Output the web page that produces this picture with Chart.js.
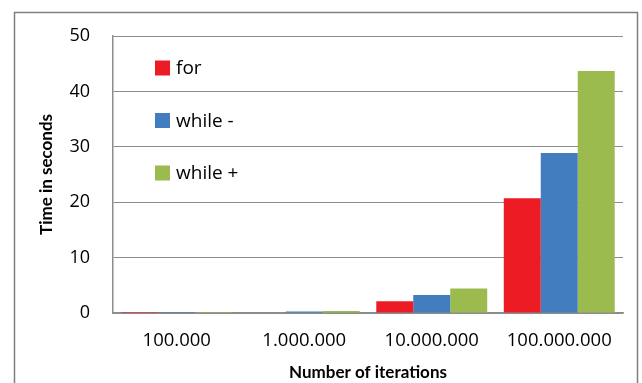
<!DOCTYPE html>
<html><head><meta charset="utf-8">
<script src="https://cdn.jsdelivr.net/npm/chart.js@4.4.1/dist/chart.umd.min.js"></script>
<style>
html,body{margin:0;padding:0;background:#fff;overflow:hidden;}
#wrap{width:642px;height:383px;}
</style>
</head><body><div id="wrap"><canvas id="c" width="642" height="383"></canvas></div>
<script>
const categories = ["100.000", "1.000.000", "10.000.000", "100.000.000"];
const forValues = [0.004, 0.1, 2.1, 20.7];
const whileMinusValues = [0.008, 0.25, 3.25, 28.9];
const whilePlusValues = [0.012, 0.35, 4.4, 43.7];
const seriesNames = ["for", "while -", "while +"];
const yTicks = [0, 10, 20, 30, 40, 50];
const FONT = "'Open Sans', sans-serif";
const TFONT = "Lato, 'Open Sans', sans-serif";

const innerLegend = {
  id: 'innerLegend',
  afterDatasetsDraw(chart) {
    const ctx = chart.ctx;
    const a = chart.chartArea;
    ctx.save();
    ctx.font = "19px " + FONT;
    ctx.textBaseline = 'middle';
    chart.data.datasets.forEach((ds, i) => {
      const y = a.top + 32 + i * 52.5;
      ctx.fillStyle = ds.backgroundColor;
      ctx.fillRect(a.left + 42, y - 7.5, 15, 15);
      ctx.fillStyle = '#000';
      ctx.fillText(ds.label, a.left + 63, y + 1);
    });
    // outer chart frame (left, top, right edges; bottom is cut off by the page)
    ctx.strokeStyle = '#7f7f7f';
    ctx.lineWidth = 1.5;
    ctx.beginPath();
    ctx.moveTo(14.5, 390);
    ctx.lineTo(14.5, 12.5);
    ctx.lineTo(637.5, 12.5);
    ctx.lineTo(637.5, 390);
    ctx.stroke();
    ctx.restore();
  }
};

new Chart(document.getElementById('c'), {
  type: 'bar',
  data: {
    labels: categories,
    datasets: [
      { label: seriesNames[0], data: forValues, backgroundColor: '#ed1c24' },
      { label: seriesNames[1], data: whileMinusValues, backgroundColor: '#417dbf' },
      { label: seriesNames[2], data: whilePlusValues, backgroundColor: '#9bbb4f' }
    ]
  },
  options: {
    responsive: false,
    animation: false,
    devicePixelRatio: 1,
    layout: { padding: { left: 36, right: 19, top: 36, bottom: 0 } },
    datasets: { bar: { categoryPercentage: 0.87, barPercentage: 1.0, borderWidth: 0 } },
    plugins: { legend: { display: false }, tooltip: { enabled: false } },
    scales: {
      x: {
        grid: { display: false, drawTicks: false },
        border: { display: true, color: '#8c8c8c', width: 1.5 },
        ticks: { color: '#000', font: { family: FONT, size: 18.5 }, padding: 17 },
        title: { display: true, text: 'Number of iterations', color: '#000', font: { family: TFONT, size: 17, weight: 'bold' }, padding: { top: 4, bottom: 0 } },
        afterFit(s) { s.height = 70; }
      },
      y: {
        min: 0, max: 50,
        afterBuildTicks(s) { s.ticks = yTicks.map(v => ({ value: v })); },
        grid: { color: '#8c8c8c', lineWidth: 1, drawTicks: false },
        border: { display: true, color: '#8c8c8c', width: 1.5 },
        ticks: { color: '#000', font: { family: FONT, size: 18 }, padding: 23 },
        title: { display: true, text: 'Time in seconds', color: '#000', font: { family: TFONT, size: 17, weight: 'bold' }, padding: { top: 0, bottom: 4 } },
        afterFit(s) { s.width = 77; }
      }
    }
  },
  plugins: [innerLegend]
});
</script>
</body></html>
